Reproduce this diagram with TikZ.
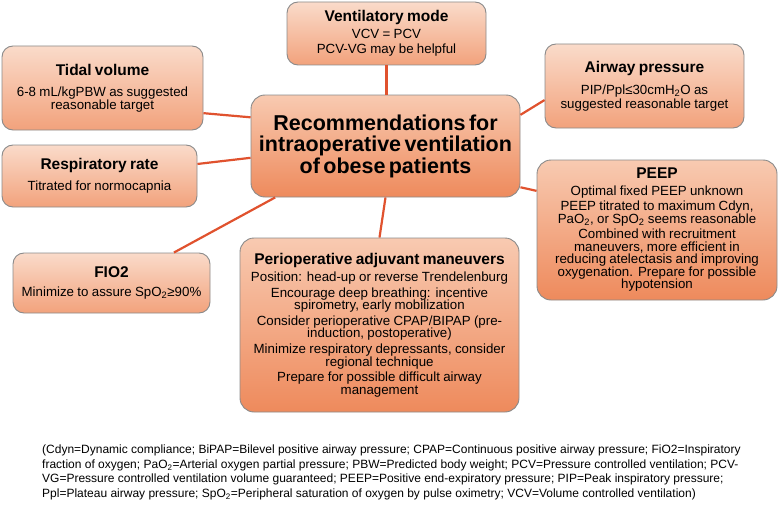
\documentclass[tikz,border=0pt]{standalone}
\usepackage{fontspec}
\setmainfont{Liberation Sans}
\definecolor{boxtop}{HTML}{FADBCA}
\definecolor{boxbot}{HTML}{F2A27C}
\definecolor{bigtop}{HTML}{F8CAB1}
\definecolor{bigbot}{HTML}{EE8A5C}
\definecolor{boxgray}{HTML}{8A8A8A}
\definecolor{linkred}{HTML}{E0522E}
\lineskiplimit=-30pt
\newcommand{\hd}[1]{{\fontsize{15.5}{17}\bfseries #1\par}}
\newcommand{\bd}[1]{{\fontsize{13.3}{12.5}\selectfont #1\par}}
\begin{document}
\begin{tikzpicture}[x=1pt,y=-1pt,
  box/.style={draw=boxgray, line width=0.9pt, rounded corners=11pt,
    top color=boxtop, bottom color=boxbot, inner xsep=0pt, inner ysep=0pt, align=center},
  bigbox/.style={box, top color=bigtop, bottom color=bigbot, rounded corners=14pt},
  link/.style={draw=linkred, line width=2.2pt},
  note/.style={inner sep=0pt, align=left, anchor=north west}]
\useasboundingbox (0,0) rectangle (779,511);

\node[box, text width=199pt, minimum height=63pt] (vm) at (386.5,33.5)
  {\hd{Ventilatory mode}\vspace{3.5pt}\bd{VCV = PCV}\vspace{2pt}\bd{PCV-VG may be helpful}};
\node[box, text width=201pt, minimum height=84pt] (tv) at (102.5,88)
  {\hd{Tidal volume}\vspace{9pt}\bd{6-8 mL/kgPBW as suggested\\reasonable target}};
\node[box, text width=199pt, minimum height=84pt] (ap) at (644.5,86)
  {\hd{Airway pressure}\vspace{8.5pt}\bd{PIP/Ppl≤30cmH\textsubscript{2}O as\\[1.5pt]suggested reasonable target}};
\node[bigbox, text width=269pt, minimum height=102pt] (ce) at (385.5,146)
  {{\fontsize{21.5}{21.5}\bfseries Recommendations for\\intraoperative ventilation\\of obese patients\par}};
\node[box, text width=195pt, minimum height=62pt] (rr) at (99.5,176)
  {\hd{Respiratory rate}\vspace{7.5pt}\bd{Titrated for normocapnia}};
\node[bigbox, text width=240pt, minimum height=140pt] (pe) at (657,230)
  {\hd{PEEP}\vspace{4.5pt}\bd{Optimal fixed PEEP unknown}\vspace{2.5pt}%
   \bd{PEEP titrated to maximum Cdyn,\\PaO\textsubscript{2}, or SpO\textsubscript{2} seems reasonable}\vspace{3pt}%
   \bd{Combined with recruitment\\maneuvers, more efficient in\\reducing atelectasis and improving\\oxygenation. Prepare for possible\\hypotension}};
\node[box, text width=197pt, minimum height=60pt] (fi) at (111.5,283)
  {\hd{FIO2}\vspace{6.5pt}\bd{Minimize to assure SpO\textsubscript{2}≥90\%}};
\node[bigbox, text width=279pt, minimum height=174pt] (po) at (379.5,325)
  {\hd{Perioperative adjuvant maneuvers}\vspace{3.5pt}%
   \bd{Position: head-up or reverse Trendelenburg}\vspace{3.2pt}%
   \bd{Encourage deep breathing: incentive\\spirometry, early mobilization}\vspace{3.2pt}%
   \bd{Consider perioperative CPAP/BIPAP (pre-\\induction, postoperative)}\vspace{3.2pt}%
   \bd{Minimize respiratory depressants, consider\\regional technique}\vspace{3.2pt}%
   \bd{Prepare for possible difficult airway\\management}};

\draw[link] (vm.south) -- (vm.south |- ce.north);
\draw[link] (tv.-14) -- (ce.168.6);
\draw[link] (rr.7) -- (ce.185.1);
\draw[link] (ap.188.6) -- (ce.13.8);
\draw[link] (fi.26.4) -- (ce.205.6);
\draw[link] (ce.south) -- (po.north);
\draw[link] (ce.-17) -- (pe.162.9);

\node[note, font=\fontsize{12}{14.5}\selectfont] (fn) at (42,445)
  {(Cdyn=Dynamic compliance; BiPAP=Bilevel positive airway pressure; CPAP=Continuous positive airway pressure; FiO2=Inspiratory\\
   fraction of oxygen; PaO\textsubscript{2}=Arterial oxygen partial pressure; PBW=Predicted body weight; PCV=Pressure controlled ventilation; PCV-\\
   VG=Pressure controlled ventilation volume guaranteed; PEEP=Positive end-expiratory pressure; PIP=Peak inspiratory pressure;\\
   Ppl=Plateau airway pressure; SpO\textsubscript{2}=Peripheral saturation of oxygen by pulse oximetry; VCV=Volume controlled ventilation)};
\end{tikzpicture}
\end{document}
